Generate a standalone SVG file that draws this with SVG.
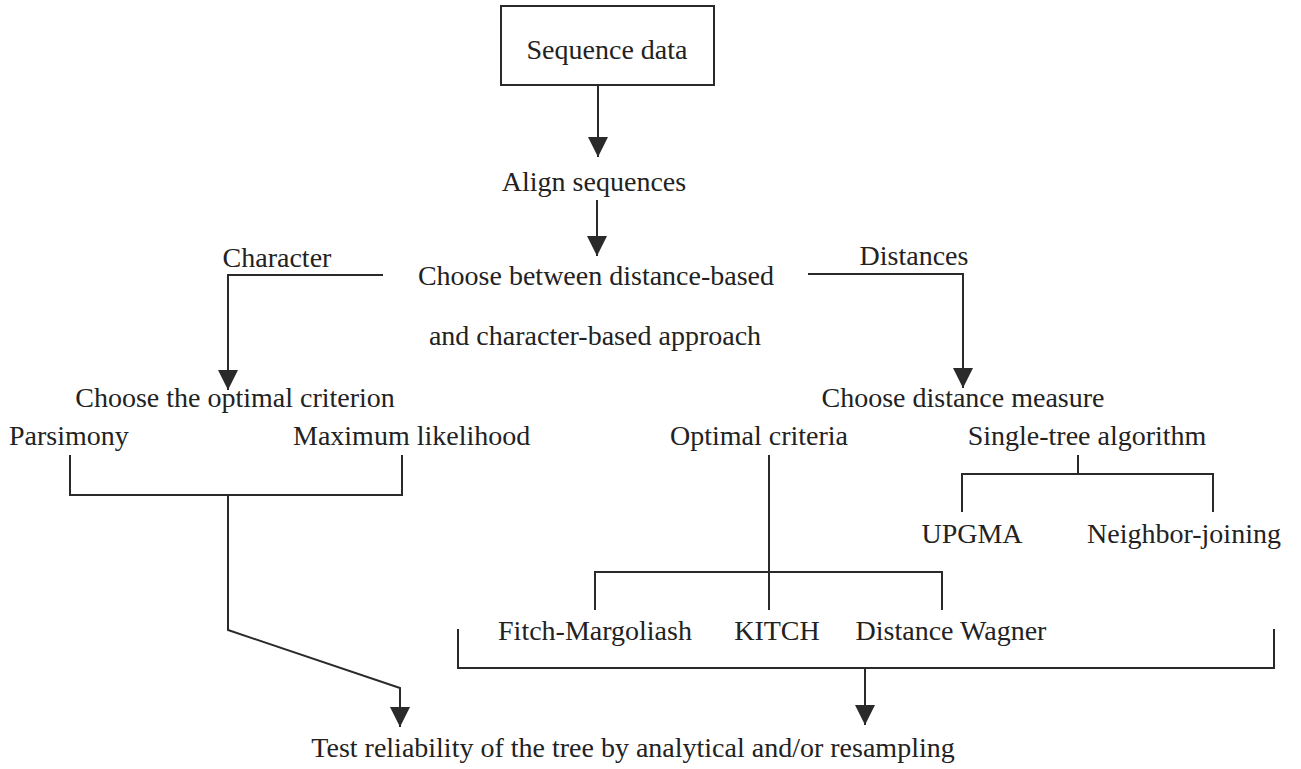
<svg xmlns="http://www.w3.org/2000/svg" width="1301" height="769" viewBox="0 0 1301 769">
<style>
text{font-family:"Liberation Serif","Times New Roman",serif;font-size:28px;fill:#222;text-anchor:middle}
.ln{fill:none;stroke:#2a2a2a;stroke-width:2}
</style>
<defs>
<marker id="ah" markerUnits="userSpaceOnUse" markerWidth="20" markerHeight="20" viewBox="0 0 20 20" refX="20" refY="10" orient="auto">
<path d="M0 0 L20 10 L0 20 Z" fill="#2a2a2a"/>
</marker>
</defs>
<rect width="1301" height="769" fill="#fff"/>
<g id="connectors">
<path class="ln" d="M598 85 V157" marker-end="url(#ah)"/>
<path class="ln" d="M597 200 V256" marker-end="url(#ah)"/>
<path class="ln" d="M383 275 H228 V390" marker-end="url(#ah)"/>
<path class="ln" d="M808 274 H963 V388" marker-end="url(#ah)"/>
<path class="ln" d="M70 455 V495 H402 V455"/>
<path class="ln" d="M228 495 V630 L400 688 V727" marker-end="url(#ah)"/>
<path class="ln" d="M769 455 V610"/>
<path class="ln" d="M595 610 V572 H942 V610"/>
<path class="ln" d="M1078 455 V474"/>
<path class="ln" d="M962 512 V474 H1213 V512"/>
<path class="ln" d="M458 629 V668 H1274 V629"/>
<path class="ln" d="M865 668 V725" marker-end="url(#ah)"/>
</g>
<g id="sequence-data">
<rect x="501" y="6" width="213" height="79" fill="none" stroke="#2a2a2a" stroke-width="2"/>
<text x="607" y="59">Sequence data</text>
</g>
<g id="align"><text x="594" y="191">Align sequences</text></g>
<g id="choose-approach">
<text x="596" y="285">Choose between distance-based</text>
<text x="595" y="345">and character-based approach</text>
</g>
<g id="label-character"><text x="277" y="267">Character</text></g>
<g id="label-distances"><text x="914" y="265">Distances</text></g>
<g id="choose-criterion"><text x="235" y="407">Choose the optimal criterion</text></g>
<g id="choose-distance"><text x="963" y="407">Choose distance measure</text></g>
<g id="parsimony"><text x="9" y="445" style="text-anchor:start">Parsimony</text></g>
<g id="max-likelihood"><text x="293" y="445" style="text-anchor:start">Maximum likelihood</text></g>
<g id="optimal-criteria"><text x="759" y="445">Optimal criteria</text></g>
<g id="single-tree"><text x="1087" y="445">Single-tree algorithm</text></g>
<g id="upgma"><text x="972" y="543">UPGMA</text></g>
<g id="nj"><text x="1184" y="543">Neighbor-joining</text></g>
<g id="fitch"><text x="595" y="640">Fitch-Margoliash</text></g>
<g id="kitch"><text x="777" y="640">KITCH</text></g>
<g id="wagner"><text x="951" y="640">Distance Wagner</text></g>
<g id="test"><text x="633" y="757">Test reliability of the tree by analytical and/or resampling</text></g>
</svg>
